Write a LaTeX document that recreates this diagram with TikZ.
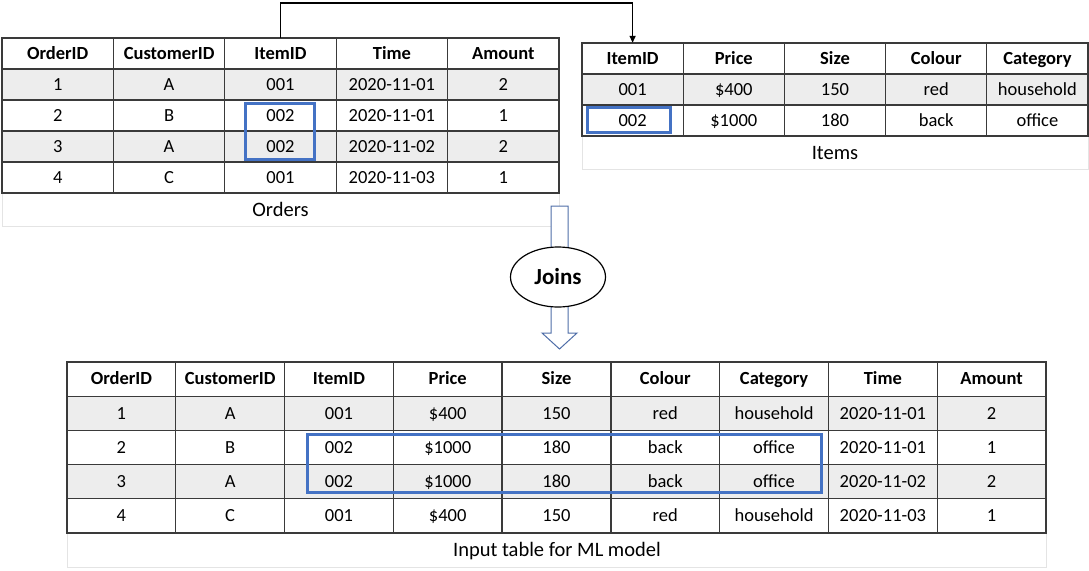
\documentclass[tikz,border=0pt]{standalone}
\usepackage{fontspec}
\setmainfont{Carlito}
\usetikzlibrary{arrows.meta,shapes.geometric}
\definecolor{tgrid}{HTML}{3A3A3A}
\definecolor{rowgray}{HTML}{EDEDED}
\definecolor{hlblue}{HTML}{4472C4}
\definecolor{capgray}{HTML}{E4E4E4}
\definecolor{arrowblue}{HTML}{4F6EA8}
\begin{document}
\begin{tikzpicture}[x=1pt,y=-1pt,
  tline/.style={draw=tgrid,line width=1.3pt,line cap=rect},
  cell/.style={inner sep=0pt,text height=13.7pt,text depth=2.3pt,font=\fontsize{18.5}{20}\selectfont},
  hl/.style={draw=hlblue,line width=3pt},
  capframe/.style={draw=capgray,line width=1pt},
  captext/.style={inner sep=0pt,text height=15pt,text depth=2pt,font=\fontsize{20.5}{22}\selectfont},
  conn/.style={draw=black,line width=1.5pt,-{Triangle[length=7pt,width=6pt]}},
  blockarrow/.style={draw=arrowblue,line width=1pt,fill=white},
  joinsnode/.style={ellipse,draw=black,line width=1.2pt,fill=white,minimum width=95pt,minimum height=60pt,inner sep=0pt,font=\bfseries\fontsize{23}{25}\selectfont}]
\useasboundingbox (0,0) rectangle (1089,570);

% ---------------- Orders table ----------------
\draw[capframe] (2,193) rectangle (559,226);
\node[captext] (orderscap) at (280.5,210) {Orders};
\foreach \r in {1,3} \fill[rowgray] (2,{38+31*\r}) rectangle (559,{38+31*(\r+1)});
\foreach \r in {0,...,5} \draw[tline] (2,{38+31*\r}) -- (559,{38+31*\r});
\foreach \c in {0,...,5} \draw[tline] ({2+111.4*\c},38) -- ({2+111.4*\c},193);
\foreach \row [count=\r from 0] in {{OrderID,CustomerID,ItemID,Time,Amount},{1,A,001,2020-11-01,2},{2,B,002,2020-11-01,1},{3,A,002,2020-11-02,2},{4,C,001,2020-11-03,1}}
  \foreach \cell [count=\c from 0] in \row
    \node[cell,minimum width=111.4pt,minimum height=31pt] (o-\r-\c) at ({2+111.4*(\c+0.5)},{38+31*(\r+0.5)}) {\ifnum\r=0 \bfseries\fi\cell};
\draw[hl] (245,103) rectangle (314,159);

% ---------------- Items table ----------------
\draw[capframe] (582,136) rectangle (1088,169);
\node[captext] (itemscap) at (835,153) {Items};
\fill[rowgray] (582,74) rectangle (1088,105);
\foreach \r in {0,...,3} \draw[tline] (582,{43+31*\r}) -- (1088,{43+31*\r});
\foreach \c in {0,...,5} \draw[tline] ({582+101.2*\c},43) -- ({582+101.2*\c},136);
\foreach \row [count=\r from 0] in {{ItemID,Price,Size,Colour,Category},{001,\$400,150,red,household},{002,\$1000,180,back,office}}
  \foreach \cell [count=\c from 0] in \row
    \node[cell,minimum width=101.2pt,minimum height=31pt] (i-\r-\c) at ({582+101.2*(\c+0.5)},{43+31*(\r+0.5)}) {\ifnum\r=0 \bfseries\fi\cell};
\draw[hl] (587,107) rectangle (670,132);

% ---------------- connector ----------------
\draw[conn] (o-0-2.north) -- ++(0,-35) -| (i-0-0.north);

% ---------------- Joins block arrow ----------------
\draw[blockarrow] (551,206) -- (568,206) -- (568,333) -- (577,333) -- (559.5,349) -- (542,333) -- (551,333) -- cycle;
\node[joinsnode] (joins) at (558,277) {Joins};

% ---------------- Input table ----------------
\draw[capframe] (67,533) rectangle (1046,567);
\node[captext] (inputcap) at (557,550) {Input table for ML model};
\foreach \r in {1,3} \fill[rowgray] (67,{362+34.2*\r}) rectangle (1046,{362+34.2*(\r+1)});
\foreach \r in {0,...,5} \draw[tline] (67,{362+34.2*\r}) -- (1046,{362+34.2*\r});
\foreach \c in {0,...,9} \draw[tline] ({67+108.78*\c},362) -- ({67+108.78*\c},533);
\foreach \row [count=\r from 0] in {{OrderID,CustomerID,ItemID,Price,Size,Colour,Category,Time,Amount},{1,A,001,\$400,150,red,household,2020-11-01,2},{2,B,002,\$1000,180,back,office,2020-11-01,1},{3,A,002,\$1000,180,back,office,2020-11-02,2},{4,C,001,\$400,150,red,household,2020-11-03,1}}
  \foreach \cell [count=\c from 0] in \row
    \node[cell,minimum width=108.78pt,minimum height=34.2pt] (t-\r-\c) at ({67+108.78*(\c+0.5)},{362+34.2*(\r+0.5)}) {\ifnum\r=0 \bfseries\fi\cell};
\draw[hl] (307,434) rectangle (821,492);
\end{tikzpicture}
\end{document}
